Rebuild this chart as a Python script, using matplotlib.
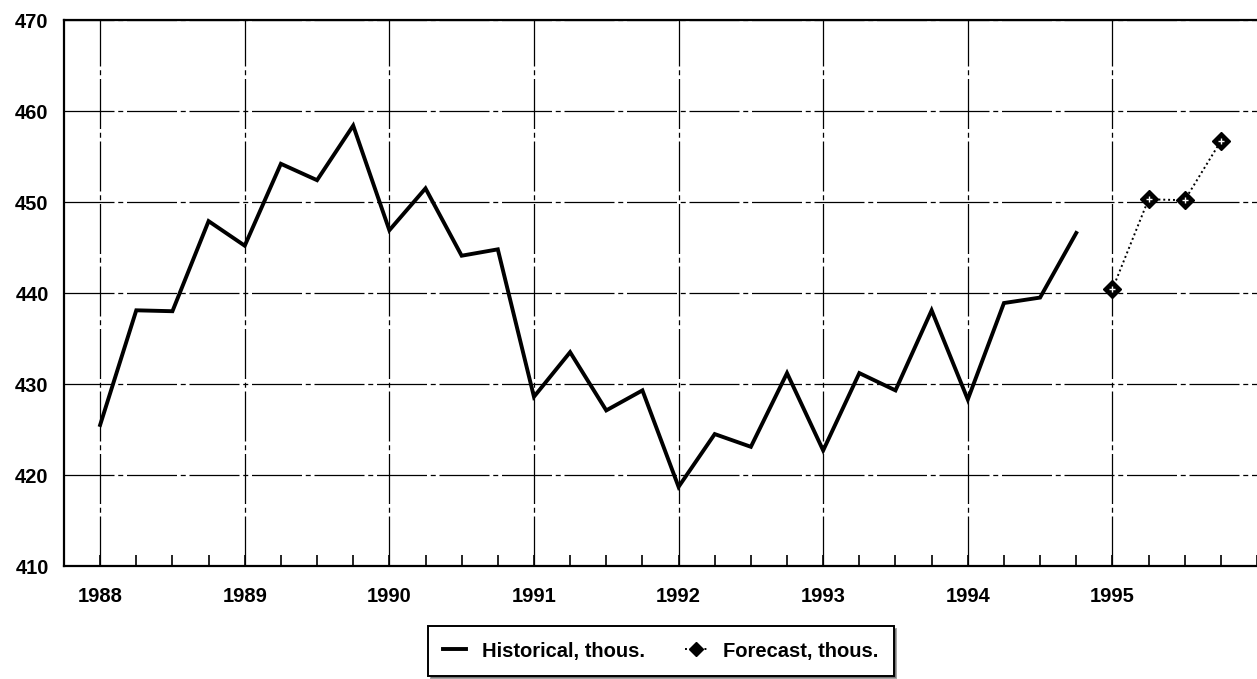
import matplotlib
matplotlib.use("Agg")
import matplotlib.pyplot as plt
from matplotlib.ticker import MultipleLocator

# quarterly data, thousands
hist_x = [1988.0, 1988.25, 1988.5, 1988.75,
          1989.0, 1989.25, 1989.5, 1989.75,
          1990.0, 1990.25, 1990.5, 1990.75,
          1991.0, 1991.25, 1991.5, 1991.75,
          1992.0, 1992.25, 1992.5, 1992.75,
          1993.0, 1993.25, 1993.5, 1993.75,
          1994.0, 1994.25, 1994.5, 1994.75]
hist_y = [425.5, 438.1, 438.0, 447.9,
          445.2, 454.2, 452.4, 458.4,
          446.9, 451.5, 444.1, 444.8,
          428.6, 433.5, 427.1, 429.3,
          418.7, 424.5, 423.1, 431.2,
          422.7, 431.2, 429.3, 438.1,
          428.3, 438.9, 439.5, 446.6]

fc_x = [1995.0, 1995.25, 1995.5, 1995.75]
fc_y = [440.4, 450.3, 450.2, 456.7]

year_ticks = [1988, 1989, 1990, 1991, 1992, 1993, 1994, 1995]
y_ticks = [410, 420, 430, 440, 450, 460, 470]

plt.rcParams['font.family'] = ['Liberation Sans', 'DejaVu Sans']

fig = plt.figure(figsize=(12.57, 6.79), dpi=100)
ax = fig.add_axes([0.0509, 0.1664, 0.9491, 0.8041])

ax.plot(hist_x, hist_y, color='black', linewidth=2.8, solid_joinstyle='miter',
        label='Historical, thous.', zorder=3)
ax.plot(fc_x, fc_y, color='black', linewidth=1.4, linestyle=(0, (1, 1.5)),
        marker='D', markersize=9, markerfacecolor='black', markeredgecolor='black',
        label='Forecast, thous.', zorder=4)
# white dots inside the diamonds
ax.plot(fc_x, fc_y, linestyle='none', marker='+', markersize=4.5,
        markeredgecolor='white', markeredgewidth=1.0, zorder=5)

ax.set_xlim(1987.75, 1996.0)
ax.set_ylim(410, 470)
ax.set_xticks(year_ticks)
ax.set_yticks(y_ticks)
ax.xaxis.set_minor_locator(MultipleLocator(0.25))

ax.grid(True, which='major', color='black', linewidth=0.9,
        linestyle=(0, (40, 3, 4, 3)))

ax.tick_params(axis='x', which='both', direction='in', length=8, width=1.2,
               pad=15, labelsize=14.5)
ax.tick_params(axis='y', length=0, pad=11, labelsize=14.5)
for lab in ax.get_xticklabels() + ax.get_yticklabels():
    lab.set_fontweight('bold')

for side in ['left', 'top', 'bottom']:
    ax.spines[side].set_linewidth(1.6)
ax.spines['right'].set_visible(False)

leg = ax.legend(loc='center', bbox_to_anchor=(661 / 1257, 28 / 679),
                bbox_transform=fig.transFigure, ncol=2,
                prop={'size': 14.5, 'weight': 'bold'},
                frameon=True, fancybox=False, shadow=True, handlelength=1.1,
                handletextpad=0.8, columnspacing=2.0, borderpad=0.75,
                markerscale=0.75)
leg.get_frame().set_edgecolor('black')
leg.get_frame().set_linewidth(1.4)

fig.savefig("out.png", dpi=100)
